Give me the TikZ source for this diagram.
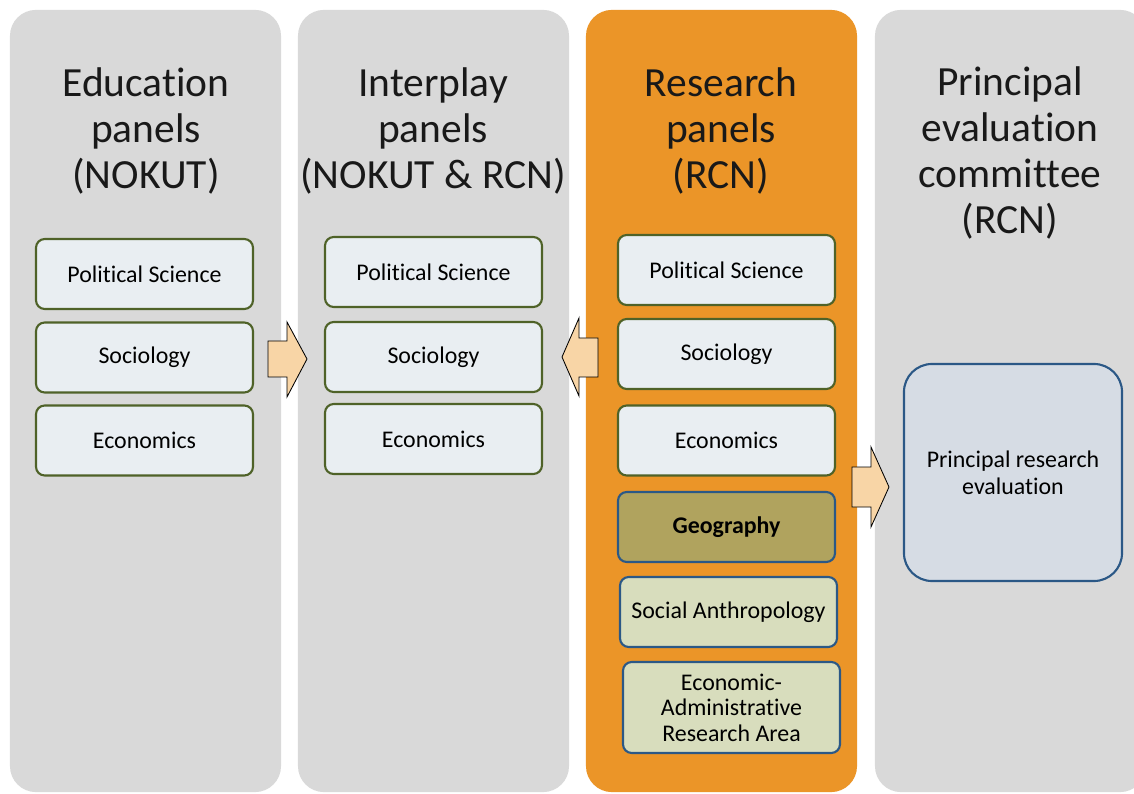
\documentclass[tikz,border=0pt]{standalone}
\usepackage{fontspec}
\setmainfont{Carlito}[Ligatures={NoCommon,NoRequired,NoContextual}]
\definecolor{colgray}{RGB}{217,217,217}
\definecolor{colorange}{RGB}{235,149,40}
\definecolor{boxfill}{RGB}{233,238,242}
\definecolor{boxgreen}{RGB}{79,98,40}
\definecolor{boxblue}{RGB}{43,88,134}
\definecolor{geofill}{RGB}{176,163,94}
\definecolor{lightolive}{RGB}{216,221,189}
\definecolor{evalfill}{RGB}{214,220,228}
\definecolor{peach}{RGB}{248,213,166}
\begin{document}
\begin{tikzpicture}[x=0.025cm,y=-0.025cm,
  column/.style={rounded corners=0.65cm, minimum width=6.775cm, minimum height=19.55cm, inner sep=0pt},
  title/.style={align=center, font=\fontsize{29.5}{32.7}\selectfont, text=black!90},
  panelbox/.style={draw=boxgreen, line width=1.5pt, fill=boxfill, rounded corners=0.22cm,
    minimum width=5.425cm, minimum height=1.75cm, align=center, font=\fontsize{17}{18.2}\selectfont},
  rcnbox/.style={panelbox, draw=boxblue},
  blockarrow/.style={draw=black, fill=peach, line width=0.6pt, line join=miter}]
\useasboundingbox (0,0) rectangle (1134,794);
\clip (0,0) rectangle (1134,794);
\fill[white] (0,0) rectangle (1134,794);

% columns
\node[column, fill=colgray] (edu) at (145.5,401) {};
\node[column, fill=colgray] (inter) at (433.5,401) {};
\node[column, fill=colorange] (res) at (721.5,401) {};
\node[column, fill=colgray] (pec) at (1010.5,401) {};

\node[title] (edutitle) at (146,131) {Education\\panels\\(NOKUT)};
\node[title] (intertitle) at (433,131) {Interplay\\panels\\(NOKUT \& RCN)};
\node[title] (restitle) at (721,131) {Research\\panels\\(RCN)};
\node[title] (pectitle) at (1010,153) {Principal\\evaluation\\committee\\(RCN)};

% education panels
\node[panelbox] (edupol) at (144.5,274) {Political Science};
\node[panelbox] (edusoc) at (144.5,357.5) {Sociology};
\node[panelbox] (eduecon) at (144.5,440.5) {Economics};

% interplay panels
\node[panelbox] (interpol) at (433.5,272) {Political Science};
\node[panelbox] (intersoc) at (433.5,357) {Sociology};
\node[panelbox] (interecon) at (433.5,439) {Economics};

% research panels
\node[panelbox] (respol) at (726.5,270) {Political Science};
\node[panelbox] (ressoc) at (726.5,354) {Sociology};
\node[panelbox] (resecon) at (726.5,440.5) {Economics};
\node[rcnbox, fill=geofill, font=\fontsize{17}{18.2}\selectfont\bfseries] (resgeo) at (726.5,527) {Geography};
\node[rcnbox, fill=lightolive] (resanth) at (728.5,612) {Social Anthropology};
\node[rcnbox, fill=lightolive, minimum height=2.275cm] (resadm) at (731.5,707.5) {Economic-\\Administrative\\Research Area};

% principal evaluation
\node[rcnbox, fill=evalfill, rounded corners=0.7cm, minimum width=5.45cm, minimum height=5.425cm,
  font=\fontsize{17}{19.2}\selectfont] (peceval) at (1013,472.5) {Principal research\\evaluation};

% block arrows
\draw[blockarrow] (268,341) -- (287,341) -- (287,322) -- (307,359) -- (287,397) -- (287,377) -- (268,377) -- cycle;
\draw[blockarrow] (598,338) -- (579,338) -- (579,318) -- (562,357) -- (579,396) -- (579,377) -- (598,377) -- cycle;
\draw[blockarrow] (852,467) -- (871,467) -- (871,447) -- (889,487) -- (871,527) -- (871,507) -- (852,507) -- cycle;
\end{tikzpicture}
\end{document}
